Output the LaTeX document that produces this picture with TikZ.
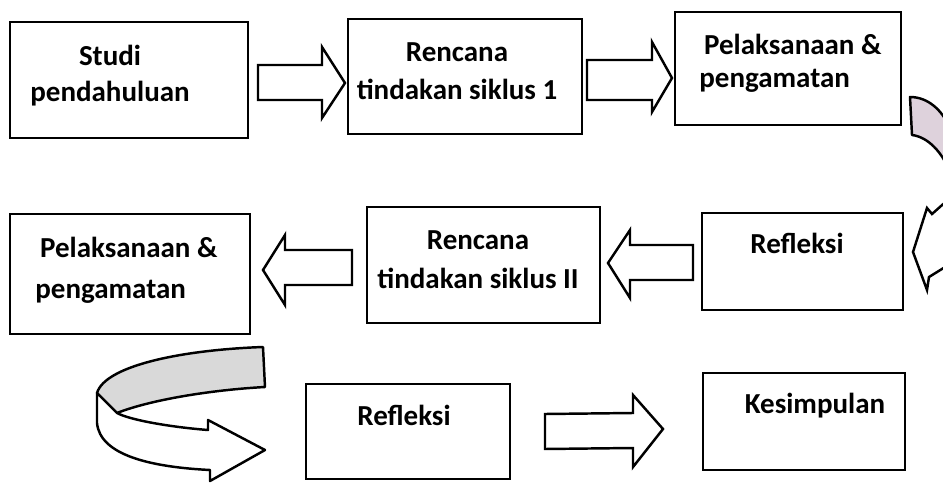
\documentclass[tikz,border=0pt]{standalone}
\usepackage{fontspec}
\setmainfont{Carlito}
\tikzset{
  stagebox/.style={draw, line width=1.6pt, fill=white, inner sep=0pt},
  stagetext/.style={font=\fontsize{16.5}{22}\selectfont\bfseries, inner sep=0pt, anchor=base},
  blockarr/.style={draw, line width=1.4pt, fill=white, line join=miter},
  foldshade/.style={draw, line width=1.4pt, fill=gray!30, line join=round}
}
\definecolor{pinkgray}{RGB}{222,210,220}
\begin{document}
\begin{tikzpicture}[x=0.02cm, y=-0.02cm]
  \clip (0,0) rectangle (943,483);
  \fill[white] (0,0) rectangle (943,483);
  % boxes
  \node[stagebox, minimum width=4.76cm, minimum height=2.32cm] (b1) at (129,80) {};
  \node[stagebox, minimum width=4.68cm, minimum height=2.30cm] (b2) at (465,76.5) {};
  \node[stagebox, minimum width=4.52cm, minimum height=2.26cm] (b3) at (788,68.5) {};
  \node[stagebox, minimum width=4.80cm, minimum height=2.40cm] (b4) at (130,274) {};
  \node[stagebox, minimum width=4.66cm, minimum height=2.32cm] (b5) at (483.5,265) {};
  \node[stagebox, minimum width=4.02cm, minimum height=1.94cm] (b6) at (802.5,261.5) {};
  \node[stagebox, minimum width=4.08cm, minimum height=1.90cm] (b7) at (408,431.5) {};
  \node[stagebox, minimum width=4.04cm, minimum height=1.94cm] (b8) at (804,421.5) {};
  % texts
  \node[stagetext, align=center] (t1) at (110,102) {Studi\\[-1pt]pendahuluan};
  \node[stagetext, align=center] (t2) at (457,100) {Rencana\\tindakan siklus 1};
  \node[stagetext, align=left, anchor=base west] (t3) at (699,88) {\,Pelaksanaan \&\\[-3pt]pengamatan};
  \node[stagetext, align=left, anchor=base west] (t4) at (35,298) {\,Pelaksanaan \&\\[1pt]pengamatan};
  \node[stagetext, align=center] (t5) at (478,288) {Rencana\\tindakan siklus II};
  \node[stagetext] (t6) at (797,253) {Refleksi};
  \node[stagetext] (t7) at (404,425) {Refleksi};
  \node[stagetext] (t8) at (815,413) {Kesimpulan};
  % block arrows
  \draw[blockarr] (258,65) -- (322,65) -- (322,47) -- (345,83) -- (322,118) -- (322,100) -- (258,100) -- cycle;
  \draw[blockarr] (587,60) -- (652,60) -- (652,42) -- (672,78) -- (652,112) -- (652,100) -- (587,100) -- cycle;
  \draw[blockarr] (352,250) -- (285,250) -- (285,235) -- (263,270) -- (285,305) -- (285,285) -- (352,285) -- cycle;
  \draw[blockarr] (693,245) -- (630,245) -- (630,230) -- (608,263) -- (630,298) -- (630,280) -- (693,280) -- cycle;
  \draw[blockarr] (545,414) -- (633,413) -- (633,395) -- (663,429) -- (633,467) -- (633,448) -- (545,449) -- cycle;
  % curved arrow on the right
  \draw[foldshade, fill=pinkgray] (910,97) .. controls (928,97) and (942,110) .. (950,128)
    -- (950,172) .. controls (942,152) and (928,137) .. (912,135) -- cycle;
  \draw[blockarr] (950,198) -- (932,214) -- (927,208) -- (913,252) -- (927,290) -- (929,277) -- (950,264);
  % curved arrow at the bottom left
  \draw[foldshade] (263,347) .. controls (180,350) and (105,366) .. (97,393)
    -- (117,413) .. controls (150,400) and (210,390) .. (265,387) -- cycle;
  \draw[blockarr, line join=round] (97,393) -- (97,423) .. controls (100,455) and (150,467) .. (210,470)
    -- (210,481) -- (265,450) -- (208,420) -- (208,430) .. controls (170,427) and (130,420) .. (117,413) -- cycle;
\end{tikzpicture}
\end{document}
